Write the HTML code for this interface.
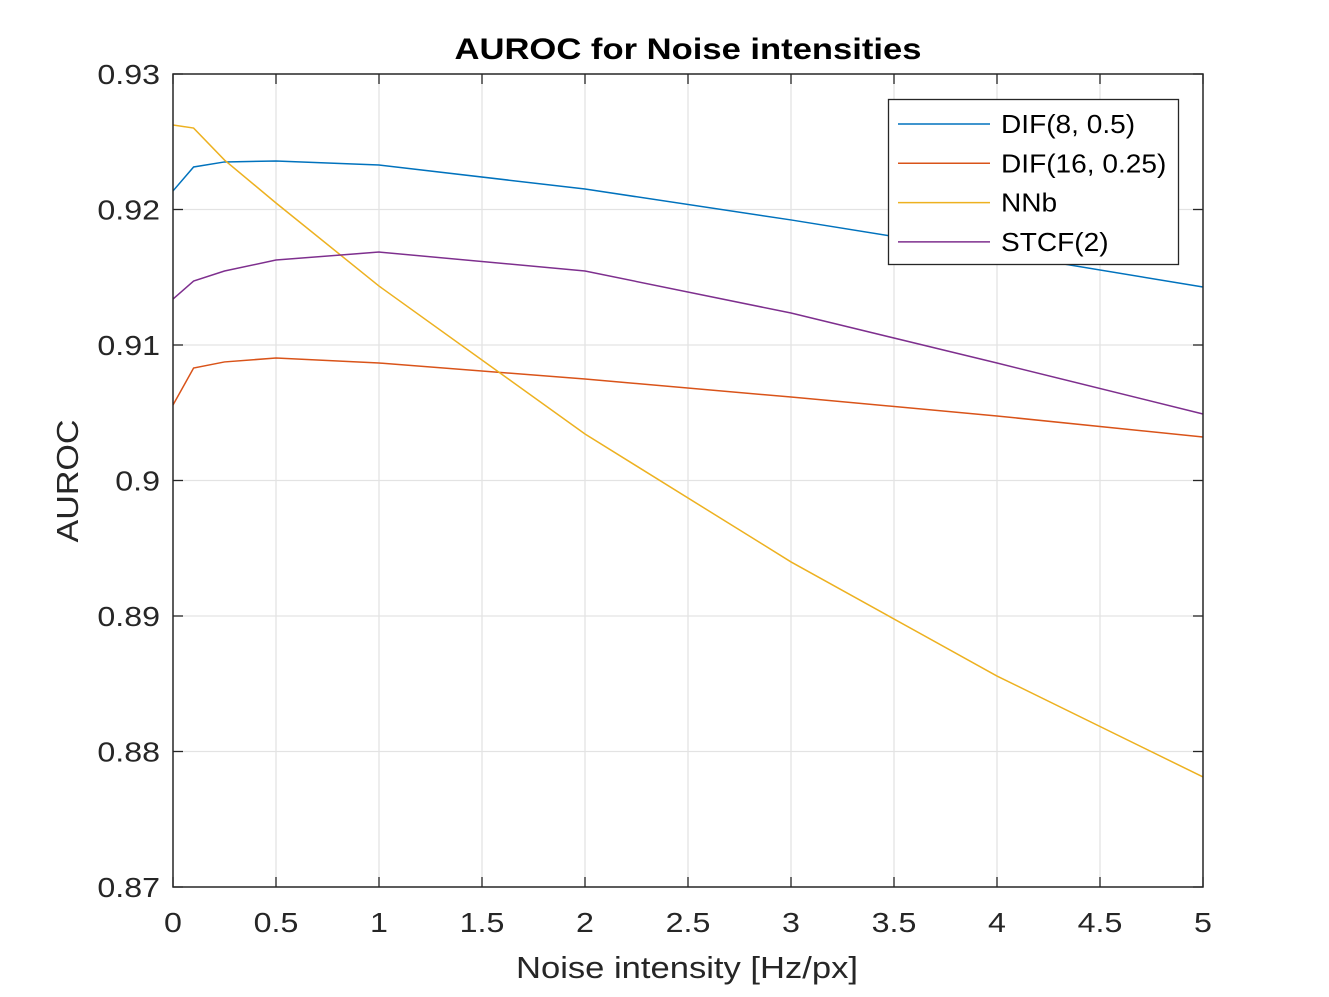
<!DOCTYPE html>
<html><head><meta charset="utf-8"><style>
body{margin:0;background:#fff;}
svg{display:block;font-family:"Liberation Sans",sans-serif;}
</style></head><body>
<svg id="chart" width="1329" height="997">
<rect width="1329" height="997" fill="#fff"/>
<g id="grid"></g>
<g id="series"></g>
<g id="axes"></g>
<text x="688" y="59" text-anchor="middle" font-size="30" font-weight="bold" fill="#000" textLength="467" lengthAdjust="spacingAndGlyphs">AUROC for Noise intensities</text>
<text x="687" y="978" text-anchor="middle" font-size="31" fill="#262626" textLength="342" lengthAdjust="spacingAndGlyphs">Noise intensity [Hz/px]</text>
<text transform="translate(78,481) rotate(-90)" text-anchor="middle" font-size="31" fill="#262626" textLength="123" lengthAdjust="spacingAndGlyphs">AUROC</text>
<g id="legend"></g>
</svg>
<script>
const xValues=[0,0.1,0.25,0.5,1,2,3,4,5];
const seriesNames=["DIF(8, 0.5)","DIF(16, 0.25)","NNb","STCF(2)"];
const dif8=[0.92137,0.92314,0.92351,0.92358,0.92328,0.92151,0.91923,0.91679,0.91428];
const dif16=[0.90557,0.9083,0.90875,0.90904,0.90867,0.90749,0.90616,0.90476,0.90321];
const nnb=[0.92624,0.92601,0.92365,0.92048,0.91435,0.90343,0.89399,0.88557,0.87812];
const stcf=[0.91339,0.91472,0.91546,0.91627,0.91686,0.91546,0.91236,0.90867,0.90491];
const xTicks=[0,0.5,1,1.5,2,2.5,3,3.5,4,4.5,5];
const xTickLabels=["0","0.5","1","1.5","2","2.5","3","3.5","4","4.5","5"];
const yTicks=[0.87,0.88,0.89,0.9,0.91,0.92,0.93];
const yTickLabels=["0.87","0.88","0.89","0.9","0.91","0.92","0.93"];
const colors=["#0072BD","#D95319","#EDB120","#7E2F8E"];
const L=173,R=1203,T=74,B=887;
const xs=v=>L+(v-0)/(5-0)*(R-L);
const ys=v=>B-(v-0.87)/(0.93-0.87)*(B-T);
const NS="http://www.w3.org/2000/svg";
function mk(tag,attrs,parent){const e=document.createElementNS(NS,tag);for(const k in attrs)e.setAttribute(k,attrs[k]);parent.appendChild(e);return e;}
const grid=document.getElementById('grid'),axes=document.getElementById('axes'),ser=document.getElementById('series'),leg=document.getElementById('legend');
xTicks.forEach((t,i)=>{
 const x=xs(t);
 if(i>0&&i<xTicks.length-1){const g=mk('line',{x1:x,x2:x,y1:T,y2:B,stroke:'#e3e3e3','stroke-width':1.3},grid);
 
 }
 mk('line',{x1:x,x2:x,y1:B,y2:B-10,stroke:'#262626','stroke-width':1.3},axes);
 mk('line',{x1:x,x2:x,y1:T,y2:T+10,stroke:'#262626','stroke-width':1.3},axes);
 const tx=mk('text',{transform:'translate('+x+',932) scale(1.15,1)','text-anchor':'middle','font-size':28,fill:'#262626'},axes);
 tx.textContent=xTickLabels[i];
 
 
});
yTicks.forEach((t,i)=>{
 const y=ys(t);
 if(i>0&&i<yTicks.length-1){const g=mk('line',{x1:L,x2:R,y1:y,y2:y,stroke:'#e3e3e3','stroke-width':1.3},grid);
 
 }
 mk('line',{x1:L,x2:L+10,y1:y,y2:y,stroke:'#262626','stroke-width':1.3},axes);
 mk('line',{x1:R,x2:R-10,y1:y,y2:y,stroke:'#262626','stroke-width':1.3},axes);
 const tx=mk('text',{transform:'translate(160,'+(y+10)+') scale(1.15,1)','text-anchor':'end','font-size':28,fill:'#262626'},axes);
 tx.textContent=yTickLabels[i];
 
 
});
const box=mk('rect',{x:L,y:T,width:R-L,height:B-T,fill:'none',stroke:'#262626','stroke-width':1.5},axes);


const data=[dif8,dif16,nnb,stcf];
const keys=['dif-8-0.5','dif-16-0.25','nnb','stcf-2'];
data.forEach((d,k)=>{
 const p=mk('polyline',{points:d.map((v,i)=>xs(xValues[i])+','+ys(v)).join(' '),fill:'none',stroke:colors[k],'stroke-width':1.5},ser);
 
 
});
const lb=mk('rect',{x:888.5,y:99.5,width:290,height:165,fill:'#fff',stroke:'#262626','stroke-width':1.3},leg);


seriesNames.forEach((n,k)=>{
 const y=124+k*39.3;
 const g=mk('g',{},leg);
 
 
 mk('line',{x1:898,x2:990,y1:y,y2:y,stroke:colors[k],'stroke-width':1.5},g);
 const t=mk('text',{transform:'translate(1001,'+(y+9)+') scale(1.08,1)','font-size':26,fill:'#000'},g);
 t.textContent=n;
});
</script>
</body></html>
